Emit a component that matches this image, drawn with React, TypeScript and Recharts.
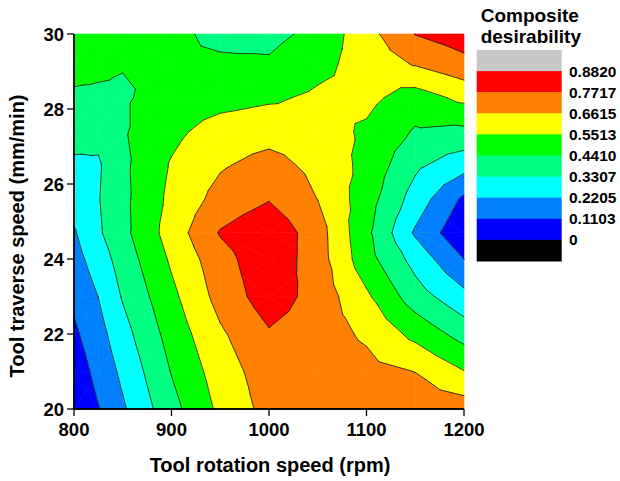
import React from 'react';
import { ComposedChart, Scatter, XAxis, YAxis, ReferenceArea } from 'recharts';

const FONT = '"Liberation Sans", Arial, Helvetica, sans-serif';

// Grid nodes (Tool rotation speed, rpm) and (Tool traverse speed, mm/min)
const rotationSpeed = [800, 825, 850, 900, 950, 1000, 1050, 1100, 1150, 1200];
const traverseSpeed = [20, 21, 22, 23, 24, 24.7, 25.6, 26.5, 27.4, 28.3, 29.2, 30];

// Composite desirability read at each node, one array per traverse speed row
const d20 = [0.01, 0.105, 0.205, 0.405, 0.575, 0.7, 0.725, 0.72, 0.72, 0.72];
const d21 = [0.045, 0.145, 0.245, 0.446, 0.606, 0.72, 0.725, 0.695, 0.66, 0.555];
const d22 = [0.09, 0.18, 0.29, 0.485, 0.645, 0.76, 0.71, 0.645, 0.52, 0.397];
const d23 = [0.135, 0.222, 0.34, 0.525, 0.7, 0.83, 0.73, 0.57, 0.382, 0.252];
const d24 = [0.18, 0.273, 0.38, 0.568, 0.73, 0.85, 0.713, 0.484, 0.29, 0.11];
const d24_7 = [0.21, 0.315, 0.41, 0.6, 0.78, 0.86, 0.709, 0.467, 0.206, 0.02];
const d25_6 = [0.26, 0.325, 0.414, 0.578, 0.7, 0.765, 0.66, 0.493, 0.283, 0.09];
const d26_5 = [0.313, 0.318, 0.418, 0.561, 0.65, 0.7, 0.631, 0.52, 0.352, 0.263];
const d27_4 = [0.369, 0.36, 0.43, 0.524, 0.6, 0.62, 0.6, 0.534, 0.43, 0.416];
const d28_3 = [0.426, 0.425, 0.43, 0.48, 0.51, 0.535, 0.57, 0.58, 0.5, 0.578];
const d29_2 = [0.472, 0.46, 0.445, 0.45, 0.455, 0.455, 0.52, 0.595, 0.67, 0.738];
const d30 = [0.51, 0.5, 0.49, 0.46, 0.42, 0.41, 0.47, 0.62, 0.775, 0.83];

const desirabilityRows = [d20, d21, d22, d23, d24, d24_7, d25_6, d26_5, d27_4, d28_3, d29_2, d30];

// Contour levels and fill colours (band k lies between levels[k-1] and levels[k])
const levels = [0, 0.1103, 0.2205, 0.3307, 0.441, 0.5513, 0.6615, 0.7717, 0.882];
const levelLabels = ['0', '0.1103', '0.2205', '0.3307', '0.4410', '0.5513', '0.6615', '0.7717', '0.8820'];
const bandColors = ['#000000', '#0000FF', '#0080FF', '#00FFFF', '#00FF80', '#00FF00', '#FFFF00', '#FF8000', '#FF0000', '#C8C8C8'];

const xTicks = [800, 900, 1000, 1100, 1200];
const yTicks = [20, 22, 24, 26, 28, 30];

type P = { x: number; y: number; z: number };

function clip(poly: P[], t: number, keepAbove: boolean): P[] {
  const out: P[] = [];
  const inside = (p: P) => (keepAbove ? p.z >= t : p.z <= t);
  for (let i = 0; i < poly.length; i++) {
    const a = poly[i];
    const b = poly[(i + 1) % poly.length];
    const ai = inside(a);
    const bi = inside(b);
    if (ai) out.push(a);
    if (ai !== bi) {
      const f = (t - a.z) / (b.z - a.z);
      out.push({ x: a.x + f * (b.x - a.x), y: a.y + f * (b.y - a.y), z: t });
    }
  }
  return out;
}

function cellTriangles(props: any, q: number[]): P[][] {
  const { x, y, width, height } = props;
  const bl = { x, y: y + height, z: q[0] };
  const br = { x: x + width, y: y + height, z: q[1] };
  const tr = { x: x + width, y, z: q[2] };
  const tl = { x, y, z: q[3] };
  const c = { x: x + width / 2, y: y + height / 2, z: (q[0] + q[1] + q[2] + q[3]) / 4 };
  return [
    [bl, br, c],
    [br, tr, c],
    [tr, tl, c],
    [tl, bl, c],
  ];
}

const toPts = (poly: P[]) => poly.map((p) => `${p.x.toFixed(2)},${p.y.toFixed(2)}`).join(' ');

function FillCell(props: any) {
  const { q } = props;
  if (props.width == null || props.height == null) return null;
  const tris = cellTriangles(props, q);
  const polys: React.ReactNode[] = [];
  tris.forEach((tri, ti) => {
    for (let k = 0; k < bandColors.length; k++) {
      let poly: P[] = tri;
      if (k > 0) poly = clip(poly, levels[k - 1], true);
      if (poly.length >= 3 && k < levels.length) poly = clip(poly, levels[k], false);
      if (poly.length >= 3) {
        polys.push(
          <polygon
            key={`${ti}-${k}`}
            points={toPts(poly)}
            fill={bandColors[k]}
            stroke={bandColors[k]}
            strokeWidth={0.6}
            strokeLinejoin="round"
          />
        );
      }
    }
  });
  return <g>{polys}</g>;
}

function LineCell(props: any) {
  const { q } = props;
  if (props.width == null || props.height == null) return null;
  const tris = cellTriangles(props, q);
  let d = '';
  tris.forEach((tri) => {
    levels.forEach((t) => {
      const pts: { x: number; y: number }[] = [];
      for (let i = 0; i < 3; i++) {
        const a = tri[i];
        const b = tri[(i + 1) % 3];
        if ((a.z - t) * (b.z - t) < 0) {
          const f = (t - a.z) / (b.z - a.z);
          pts.push({ x: a.x + f * (b.x - a.x), y: a.y + f * (b.y - a.y) });
        }
      }
      if (pts.length === 2) {
        d += `M${pts[0].x.toFixed(2)},${pts[0].y.toFixed(2)}L${pts[1].x.toFixed(2)},${pts[1].y.toFixed(2)}`;
      }
    });
  });
  if (!d) return null;
  return <path d={d} fill="none" stroke="#1a1a1a" strokeWidth={0.8} strokeLinecap="round" />;
}

type Cell = { x1: number; x2: number; y1: number; y2: number; q: number[]; key: string };

const cells: Cell[] = [];
for (let j = 0; j < traverseSpeed.length - 1; j++) {
  for (let i = 0; i < rotationSpeed.length - 1; i++) {
    cells.push({
      x1: rotationSpeed[i],
      x2: rotationSpeed[i + 1],
      y1: traverseSpeed[j],
      y2: traverseSpeed[j + 1],
      q: [
        desirabilityRows[j][i],
        desirabilityRows[j][i + 1],
        desirabilityRows[j + 1][i + 1],
        desirabilityRows[j + 1][i],
      ],
      key: `${i}-${j}`,
    });
  }
}

const nodes: { rpm: number; speed: number; d: number }[] = [];
traverseSpeed.forEach((s, j) => rotationSpeed.forEach((r, i) => nodes.push({ rpm: r, speed: s, d: desirabilityRows[j][i] })));

const W = 620;
const H = 481;
const tickStyle = { fontSize: 18.5, fontWeight: 700, fill: '#000', fontFamily: FONT };

export default function App() {
  return (
    <div style={{ position: 'fixed', left: 0, top: 0, width: W, height: H, background: '#fff', overflow: 'hidden' }}>
      <ComposedChart width={W} height={H} margin={{ top: 34, right: 156, bottom: 0, left: 8 }} data={nodes}>
        <XAxis
          type="number"
          dataKey="rpm"
          domain={[800, 1200]}
          ticks={xTicks}
          allowDataOverflow
          height={72}
          tickSize={7}
          tickMargin={7}
          tick={tickStyle}
          axisLine={{ stroke: '#000', strokeWidth: 1.3 }}
          tickLine={{ stroke: '#000', strokeWidth: 1.3 }}
        />
        <YAxis
          type="number"
          dataKey="speed"
          domain={[20, 30]}
          ticks={yTicks}
          allowDataOverflow
          width={66}
          tickSize={7}
          tickMargin={3}
          tick={tickStyle}
          axisLine={{ stroke: '#000', strokeWidth: 1.3 }}
          tickLine={{ stroke: '#000', strokeWidth: 1.3 }}
        />
        {cells.map((c) => (
          <ReferenceArea
            key={`f${c.key}`}
            x1={c.x1}
            x2={c.x2}
            y1={c.y1}
            y2={c.y2}
            ifOverflow="visible"
            shape={(p: any) => <FillCell {...p} q={c.q} />}
          />
        ))}
        {cells.map((c) => (
          <ReferenceArea
            key={`l${c.key}`}
            x1={c.x1}
            x2={c.x2}
            y1={c.y1}
            y2={c.y2}
            ifOverflow="visible"
            shape={(p: any) => <LineCell {...p} q={c.q} />}
          />
        ))}
        <Scatter dataKey="d" isAnimationActive={false} shape={() => <g />} />
      </ComposedChart>
      <svg
        width={W}
        height={H}
        style={{ position: 'absolute', left: 0, top: 0, pointerEvents: 'none' }}
        fontFamily={FONT}
      >
        <line x1={74} y1={34} x2={74} y2={409.6} stroke="#000" strokeWidth={1.3} />
        <line x1={73.4} y1={409} x2={464} y2={409} stroke="#000" strokeWidth={1.3} />
        <text x={270} y={471.5} textAnchor="middle" fontSize={20} fontWeight={700} fill="#000">
          Tool rotation speed (rpm)
        </text>
        <text
          x={23.5}
          y={236}
          textAnchor="middle"
          fontSize={20}
          fontWeight={700}
          fill="#000"
          transform="rotate(-90 23.5 236)"
        >
          Tool traverse speed (mm/min)
        </text>
        <text x={480.7} y={21.7} fontSize={19} fontWeight={700} fill="#000">
          Composite
        </text>
        <text x={480.7} y={43.3} fontSize={19} fontWeight={700} fill="#000">
          desirability
        </text>
        {bandColors
          .slice()
          .reverse()
          .map((col, i) => (
            <rect key={col} x={476.7} y={50 + i * 21.1} width={85} height={21.6} fill={col} />
          ))}
        {levelLabels
          .slice()
          .reverse()
          .map((lab, i) => (
            <text
              key={lab}
              x={569}
              y={50 + (i + 1) * 21.1}
              dy="0.36em"
              fontSize={15.5}
              fontWeight={700}
              fill="#000"
            >
              {lab}
            </text>
          ))}
      </svg>
    </div>
  );
}
